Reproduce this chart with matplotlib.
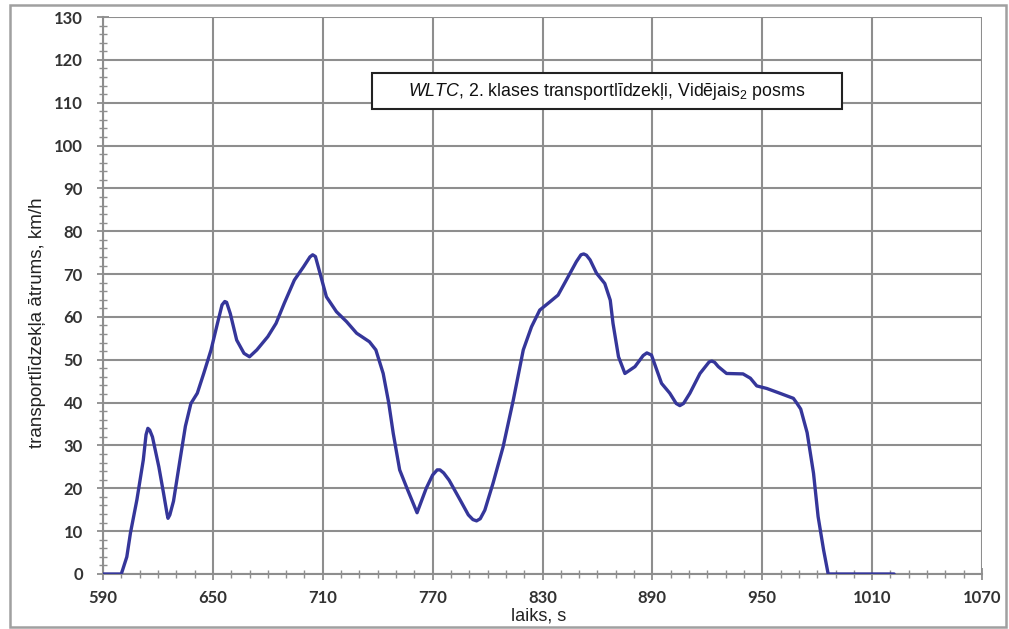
import matplotlib

matplotlib.use("Agg")

import matplotlib.pyplot as plt
from matplotlib.patches import Rectangle
from matplotlib.ticker import MultipleLocator

# WLTC class 2, medium phase: time (s) and vehicle speed (km/h)
time_s = [
    590, 600, 603, 605, 608.5, 612, 613.5, 614.5, 615.5, 617, 620.5, 623,
    625, 625.5, 626.5, 628.5, 632, 635, 638, 641.5, 645, 649, 652.5, 655,
    656.5, 657.5, 659.5, 663, 667, 670, 674, 680, 684.5, 689, 694.5, 699.5,
    703, 704.5, 706, 708.5, 712, 717.5, 723, 728.5, 735.5, 739, 743, 746,
    748.5, 752, 756, 761.5, 766.5, 770, 772.5, 774, 776, 779, 785, 789.5,
    792, 794, 796, 798.5, 803, 808.5, 814, 819.5, 824, 828.5, 834, 838.5,
    843, 848.5, 851, 852.5, 854, 856, 859.5, 864, 867, 868.5, 871.5, 875,
    880.5, 885, 887, 889.5, 895, 899.5, 903, 905, 907, 910.5, 916, 921,
    922.5, 924, 926, 930.5, 939.5, 943.5, 947, 952.5, 959.5, 967, 969,
    971, 974.5, 978, 980.5, 983.5, 986, 1022,
]
speed_kmh = [
    0, 0, 4, 9.6, 17.3, 26.6, 32.5, 34, 33.6, 32, 25, 19,
    14, 13, 13.8, 17, 26.5, 34.5, 39.8, 42.2, 46.8, 52.3, 58.5, 62.8,
    63.6, 63.4, 60.8, 54.6, 51.5, 50.7, 52.3, 55.4, 58.5, 63.2, 68.6, 71.7,
    74, 74.5, 74.1, 70.2, 64.7, 61.2, 58.9, 56.2, 54.2, 52.3, 46.8, 40,
    32.8, 24.3, 20, 14.3, 20, 23.1, 24.3, 24.3, 23.6, 21.9, 17.3, 13.8,
    12.7, 12.4, 12.9, 14.9, 21.2, 29.7, 40.5, 52.3, 57.7, 61.6, 63.5, 65.1,
    68.6, 72.9, 74.5, 74.7, 74.4, 73.3, 70.2, 67.8, 63.9, 58.5, 50.7, 46.8,
    48.4, 51, 51.6, 51.1, 44.5, 42.2, 39.8, 39.3, 39.8, 42.2, 46.8, 49.5,
    49.7, 49.4, 48.4, 46.8, 46.7, 45.7, 43.9, 43.3, 42.2, 41, 39.8,
    38.5, 33, 23.5, 13.4, 5.6, 0, 0,
]

x_ticks = [590, 650, 710, 770, 830, 890, 950, 1010, 1070]
y_ticks = list(range(0, 131, 10))

title = r"$\it{WLTC}$, 2. klases transportlīdzekļi, Vidējais$_2$ posms"
x_label = "laiks, s"
y_label = "transportlīdzekļa ātrums, km/h"

plt.rcParams["mathtext.fontset"] = "custom"
plt.rcParams["mathtext.rm"] = "Liberation Sans"
plt.rcParams["mathtext.it"] = "Liberation Sans:italic"

W, H = 1009, 629
fig = plt.figure(figsize=(W / 100, H / 100), dpi=100)
ax = fig.add_axes([103 / W, 1 - 574 / H, 879 / W, 557 / H])

grid_c = "#8e8e8e"
ax.plot(time_s, speed_kmh, color="#35369a", linewidth=2.4,
        solid_joinstyle="round", solid_capstyle="round", zorder=3)

ax.set_xlim(590, 1070)
ax.set_ylim(0, 130)
ax.set_xticks(x_ticks)
ax.set_yticks(y_ticks)
ax.xaxis.set_minor_locator(MultipleLocator(10))
ax.yaxis.set_minor_locator(MultipleLocator(2))
ax.grid(True, which="major", color=grid_c, linewidth=1.5)
ax.set_axisbelow(True)

for side in ["left", "bottom"]:
    ax.spines[side].set_color(grid_c)
    ax.spines[side].set_linewidth(1.5)
for side in ["top", "right"]:
    ax.spines[side].set_visible(False)

ax.tick_params(which="major", direction="inout", length=9, width=1.3,
               color=grid_c, labelsize=12, labelcolor="#333333")
ax.tick_params(which="minor", direction="inout", length=6, width=1.0,
               color=grid_c)
ax.tick_params(axis="x", which="major", pad=7)
ax.tick_params(axis="y", which="major", pad=10)
for lbl in ax.get_xticklabels() + ax.get_yticklabels():
    lbl.set_fontfamily("Lato")
    lbl.set_fontweight("bold")

ax.set_xlabel(x_label, family="Liberation Sans", fontsize=13, color="#222222",
              va="center")
ax.set_ylabel(y_label, family="Liberation Sans", fontsize=13.5, color="#222222",
              va="center")
ax.xaxis.set_label_coords((539 - 103) / 879, (574 - 616) / 557)
ax.yaxis.set_label_coords((38 - 103) / 879, (574 - 323) / 557)

# caption box
fig.patches.append(Rectangle((372 / W, 1 - 109 / H), 470 / W, 36 / H,
                             transform=fig.transFigure, facecolor="white",
                             edgecolor="#222222", linewidth=1.5, zorder=5))
fig.text(607 / W, 1 - 91 / H, title, family="Liberation Sans", fontsize=12.8,
         ha="center", va="center", color="#111111", zorder=6)

# outer frame
fig.patches.append(Rectangle((10 / W, 1 - 627 / H), 996 / W, 622 / H,
                             transform=fig.transFigure, facecolor="none",
                             edgecolor="#a0a0a0", linewidth=1.8, zorder=0))

fig.savefig("out.png", dpi=100, facecolor="white")
plt.close(fig)
